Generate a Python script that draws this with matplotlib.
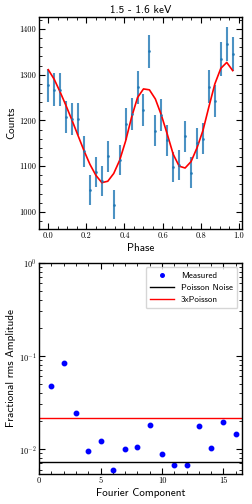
import numpy as np
import matplotlib
matplotlib.use('Agg')
import matplotlib.pyplot as plt
from matplotlib.ticker import MultipleLocator, FuncFormatter, LogLocator, NullFormatter

# tick labels in computer modern roman, axis labels in cm sans
plt.rcParams['font.family'] = 'cmr10'
plt.rcParams['mathtext.fontset'] = 'cm'
plt.rcParams['axes.unicode_minus'] = False

# pulse profile (32 phase bins)
phase = np.arange(32) / 32.0
counts = [1277, 1267, 1267, 1207, 1204, 1204, 1133, 1048,
          1088, 1067, 1122, 1016, 1113, 1193, 1215, 1273,
          1223, 1351, 1178, 1212, 1157, 1099, 1103, 1165,
          1086, 1150, 1160, 1274, 1243, 1335, 1368, 1346]
count_err = [36, 36, 36, 35, 35, 35, 34, 32,
             33, 33, 34, 32, 33, 35, 35, 36,
             35, 37, 34, 35, 34, 33, 33, 34,
             33, 34, 34, 36, 35, 37, 37, 37]
model = [1311, 1290, 1262, 1232, 1200, 1167, 1134, 1104,
         1080, 1064, 1067, 1084, 1113, 1155, 1207, 1250,
         1269, 1267, 1247, 1212, 1170, 1126, 1100, 1096,
         1110, 1140, 1178, 1230, 1280, 1314, 1327, 1309]

# fourier amplitudes
harmonic = np.arange(1, 17)
frac_rms = [0.0472, 0.0836, 0.0244, 0.0095, 0.0121, 0.00594, 0.0100, 0.0106,
            0.0181, 0.0088, 0.00678, 0.00673, 0.0175, 0.0103, 0.0197, 0.0143]
poisson_level = 0.00724
poisson_mult = 3

label_font = 'cmss10'

fig = plt.figure(figsize=(2.52, 5.04), dpi=100)
ax1 = fig.add_axes([0.155, 0.546, 0.805, 0.420])
ax2 = fig.add_axes([0.155, 0.059, 0.805, 0.420])

# --- top panel: profile ---
ax1.errorbar(phase, counts, yerr=count_err, fmt='.', color='#1f77b4',
             markersize=2, elinewidth=1.5, alpha=0.8, capsize=0)
ax1.plot(phase, model, color='red', linewidth=1.2)
ax1.set_title('1.5 - 1.6 keV', fontsize=8, fontfamily=label_font, pad=3)
ax1.set_xlabel('Phase', fontsize=8, fontfamily=label_font, labelpad=2)
ax1.set_ylabel('Counts', fontsize=8, fontfamily=label_font, labelpad=2)
ax1.xaxis.set_major_locator(MultipleLocator(0.2))
ax1.xaxis.set_minor_locator(MultipleLocator(0.05))
ax1.yaxis.set_major_locator(MultipleLocator(100))
ax1.yaxis.set_minor_locator(MultipleLocator(20))
ax1.xaxis.set_major_formatter(FuncFormatter(lambda v, p: f'{v:.1f}'))
ax1.yaxis.set_major_formatter(FuncFormatter(lambda v, p: f'{v:.0f}'))

# --- bottom panel: fourier amplitudes ---
ax2.plot(harmonic, frac_rms, 'o', color='blue', markersize=3.2, label='Measured')
ax2.axhline(poisson_level, color='black', linewidth=1.0, label='Poisson Noise')
ax2.axhline(poisson_mult * poisson_level, color='red', linewidth=1.0, label='3xPoisson')
ax2.set_yscale('log')
ax2.set_xlim(0, 16.5)
ax2.set_ylim(0.00535, 1.0)
ax2.set_xlabel('Fourier Component', fontsize=8, fontfamily=label_font, labelpad=2)
ax2.set_ylabel('Fractional rms Amplitude', fontsize=8, fontfamily=label_font, labelpad=2)
ax2.xaxis.set_major_locator(MultipleLocator(5))
ax2.xaxis.set_minor_locator(MultipleLocator(1))
ax2.xaxis.set_major_formatter(FuncFormatter(lambda v, p: f'{v:.0f}'))
ax2.yaxis.set_major_locator(LogLocator(base=10))
ax2.yaxis.set_minor_locator(LogLocator(base=10, subs=np.arange(2, 10)))
ax2.yaxis.set_minor_formatter(NullFormatter())
ax2.yaxis.set_major_formatter(FuncFormatter(lambda v, p: r'$10^{%d}$' % int(round(np.log10(v)))))
ax2.legend(loc='upper right', prop={'family': label_font, 'size': 6.5},
           handlelength=2.6, borderpad=0.5, labelspacing=0.4, markerscale=0.8)

for ax in (ax1, ax2):
    ax.tick_params(which='both', direction='in', top=True, right=True)
    ax.tick_params(which='major', length=4, width=0.8, labelsize=6, pad=2)
    ax.tick_params(which='minor', length=2, width=0.6)
    for s in ax.spines.values():
        s.set_linewidth(1.0)

plt.savefig('out.png', dpi=100)
